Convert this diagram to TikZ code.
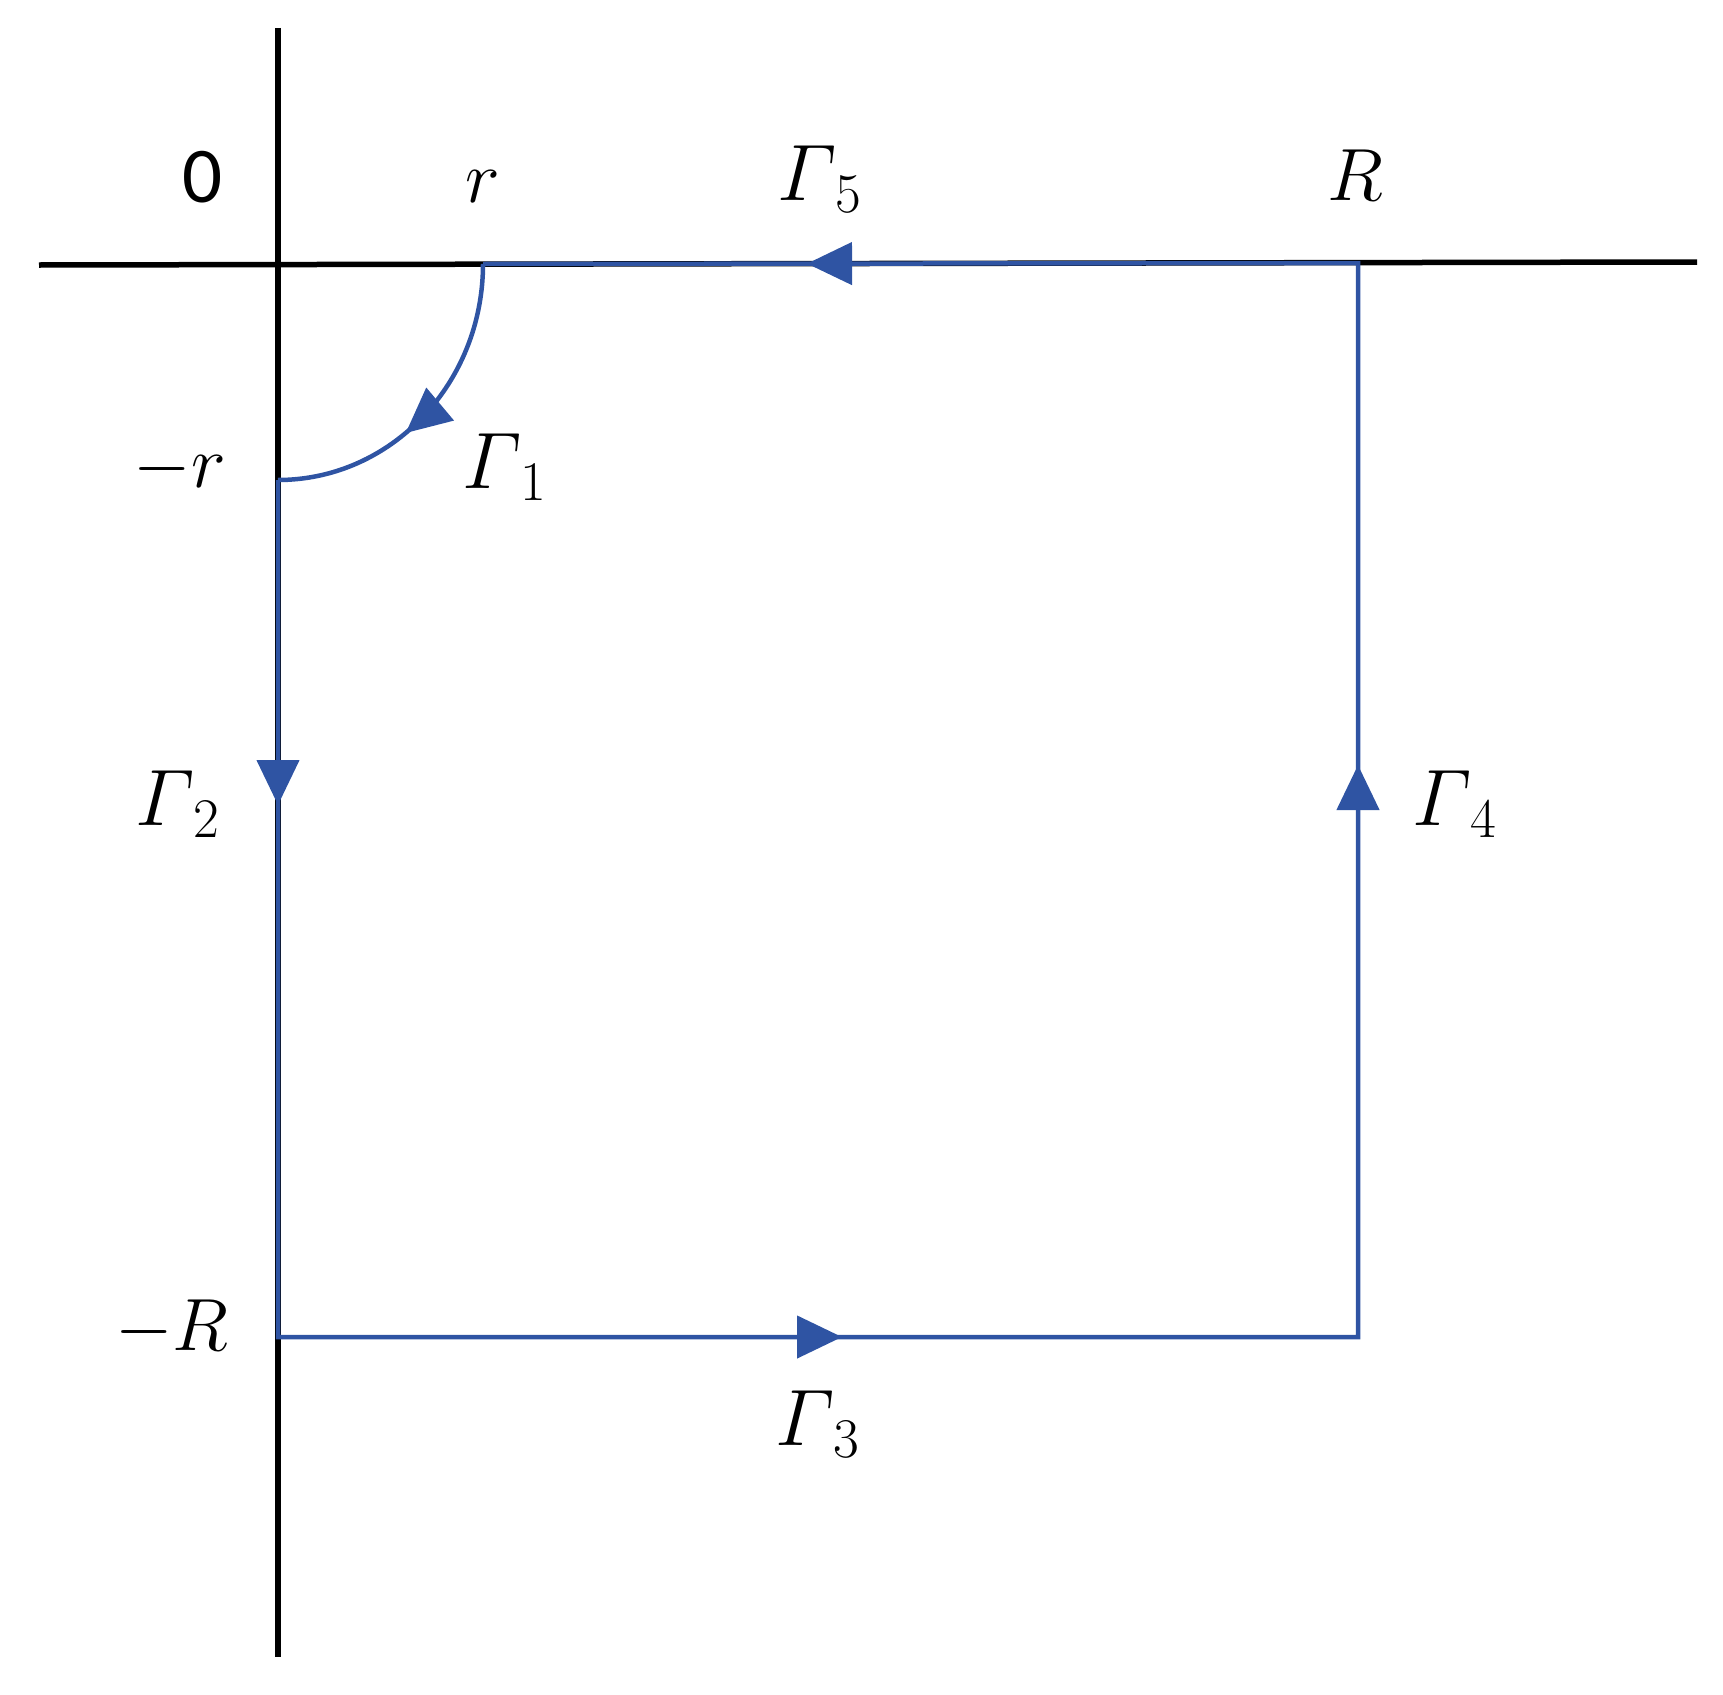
\RequirePackage{fix-cm}
\documentclass[tikz,border=0pt]{standalone}
\usepackage{amsmath}
\usepackage{fontspec}
\newfontfamily\carlito{Carlito}
\usetikzlibrary{arrows.meta,decorations.markings}
\definecolor{contour}{RGB}{47,84,163}
\tikzset{
  axisline/.style={line width=5.5pt, black},
  pathline/.style={line width=4.5pt, contour, line join=miter},
  lbl/.style={inner sep=0pt, anchor=base, font=\fontsize{74}{80}\selectfont},
  zerolbl/.style={inner sep=0pt, anchor=base, font=\fontsize{79}{85}\selectfont\carlito},
  gam/.style={inner sep=0pt, anchor=base west, font=\fontsize{80}{90}\selectfont},
  tri/.tip={Triangle[length=45pt,width=42pt]},
  tipat/.style={postaction={decorate, decoration={markings,
      mark=at position #1 with {\arrow{tri}}}}}
}
\begin{document}
\begin{tikzpicture}[x=1pt,y=-1pt]
\useasboundingbox (0,0) rectangle (1723,1694);
% axes
\coordinate (xl) at (39,265);
\coordinate (xr) at (1697,262);
\coordinate (yt) at (278,28);
\coordinate (yb) at (278,1657);
% contour points
\coordinate (A) at (483,264);
\coordinate (B) at (278,480);
\coordinate (C) at (278,1337);
\coordinate (D) at (1358,1337);
\coordinate (E) at (1358,263);
\draw[axisline] (xl) -- (xr);
\draw[axisline] (yt) -- (yb);
% Gamma 1 arc
\draw[pathline, tipat=0.58] (A) arc[start angle=0, end angle=90, x radius=205, y radius=216];
% Gamma 2..5
\draw[pathline, postaction={decorate, decoration={markings,
    mark=at position 325pt with {\arrow{tri}},
    mark=at position 1421pt with {\arrow{tri}},
    mark=at position 2509pt with {\arrow{tri}},
    mark=at position 3562pt with {\arrow{tri}}}}]
  (B) -- (C) -- (D) -- (E) -- (A);
% labels
\node[zerolbl] (zero) at (203,202) {0};
\node[lbl] (rl) at (483,202) {$r$};
\node[lbl] (Rl) at (1355,200) {$R$};
\node[lbl] (mr) at (180,487) {$-r$};
\node[lbl] (mR) at (172,1350) {$-R$};
\node[gam] (g1) at (462,488) {$\varGamma_{\,1}$};
\node[gam] (g2) at (135,825) {$\varGamma_{\,2}$};
\node[gam] (g3) at (775,1445) {$\varGamma_{\,3}$};
\node[gam] (g4) at (1412,825) {$\varGamma_{\,4}$};
\node[gam] (g5) at (777,200) {$\varGamma_{\,5}$};
\end{tikzpicture}
\end{document}
